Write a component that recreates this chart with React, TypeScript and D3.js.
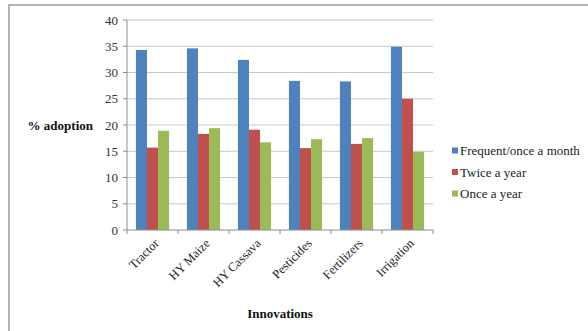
import React from "react";
import * as d3 from "d3";

const categories = ["Tractor", "HY Maize", "HY Cassava", "Pesticides", "Fertilizers", "Irrigation"];
const seriesNames = ["Frequent/once a month", "Twice a year", "Once a year"];
const frequent = [34.3, 34.6, 32.4, 28.4, 28.3, 34.9];
const twice = [15.7, 18.3, 19.1, 15.6, 16.4, 25.0];
const once = [18.9, 19.4, 16.7, 17.3, 17.5, 14.9];
const colors = ["#4F81BD", "#C0504D", "#9BBB59"];
const yTicks = [0, 5, 10, 15, 20, 25, 30, 35, 40];

const W = 588;
const H = 331;
const plot = { left: 127, right: 433, top: 20, bottom: 230 };
const font = "'Times New Roman', 'Liberation Serif', Times, serif";

export default function App() {
  const series = [frequent, twice, once];
  const x = d3.scaleBand<string>().domain(categories).range([plot.left, plot.right]).paddingInner(0.35).paddingOuter(0.175);
  const x0 = d3.scaleBand<string>().domain(categories).range([plot.left, plot.right]);
  const y = d3.scaleLinear().domain([0, 40]).range([plot.bottom, plot.top]);
  const inner = d3.scaleBand<number>().domain([0, 1, 2]).range([0, x.bandwidth()]);
  const ts = { fontFamily: font } as React.CSSProperties;

  return (
    <svg width={W} height={H} style={{ position: "absolute", left: 0, top: 0, background: "#fff", fontFamily: font }}>
      <rect x={9} y={5} width={W + 10} height={H + 10} fill="#fff" stroke="#9a9a9a" strokeWidth={1.5} />
      {yTicks.map((t) => (
        <g key={t}>
          {t > 0 && <line x1={plot.left} x2={plot.right} y1={y(t)} y2={y(t)} stroke="#c8c8c8" strokeWidth={1} />}
          <line x1={plot.left - 4} x2={plot.left} y1={y(t)} y2={y(t)} stroke="#8c8c8c" />
          <text style={ts} x={plot.left - 9} y={y(t)} dy="0.35em" textAnchor="end" fontSize={13} fill="#333">{t}</text>
        </g>
      ))}
      {categories.map((c, i) => (
        <g key={c}>
          {series.map((s, k) => (
            <rect
              key={k}
              x={(x(c) as number) + (inner(k) as number)}
              y={y(s[i])}
              width={inner.bandwidth()}
              height={y(0) - y(s[i])}
              fill={colors[k]}
            />
          ))}
        </g>
      ))}
      <line x1={plot.left} x2={plot.left} y1={plot.top} y2={plot.bottom} stroke="#8c8c8c" />
      <line x1={plot.left} x2={plot.right} y1={plot.bottom} y2={plot.bottom} stroke="#8c8c8c" />
      {[...categories.map((c) => x0(c) as number), plot.right].map((tx, i) => (
        <line key={i} x1={tx} x2={tx} y1={plot.bottom} y2={plot.bottom + 4} stroke="#8c8c8c" />
      ))}
      {categories.map((c) => {
        const cx = (x0(c) as number) + x0.bandwidth() / 2 + 4;
        const cy = plot.bottom + 11;
        return (
          <text style={ts} key={c} x={cx} y={cy} textAnchor="end" fontSize={12.5} fill="#222" transform={`rotate(-45 ${cx} ${cy})`} dy="0.35em">
            {c}
          </text>
        );
      })}
      <text style={ts} x={93} y={125} dy="0.35em" textAnchor="end" fontSize={13} fontWeight="bold" fill="#111">% adoption</text>
      <text style={ts} x={280} y={318} textAnchor="middle" fontSize={13} fontWeight="bold" fill="#111">Innovations</text>
      {seriesNames.map((n, k) => (
        <g key={n} transform={`translate(452, ${150.5 + k * 21.5})`}>
          <rect x={0} y={-3} width={6} height={6} fill={colors[k]} />
          <text style={ts} x={8} y={0} dy="0.35em" fontSize={13} fill="#222">{n}</text>
        </g>
      ))}
    </svg>
  );
}
